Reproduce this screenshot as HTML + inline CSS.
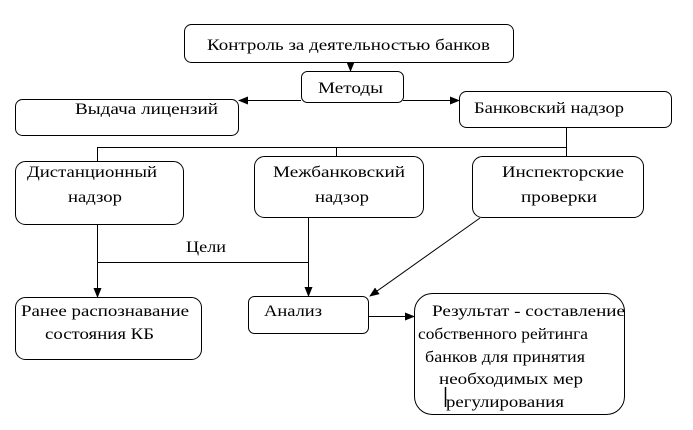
<!DOCTYPE html>
<html><head><meta charset="utf-8"><style>
body{margin:0;background:#fff;width:693px;height:425px;overflow:hidden}
text{font-family:"Liberation Serif","Times New Roman",Times,serif;font-size:16px;fill:#000}
</style></head><body>
<svg width="693" height="425" xmlns="http://www.w3.org/2000/svg">
<defs><marker id="a" markerWidth="10" markerHeight="8" refX="9" refY="4" orient="auto" markerUnits="userSpaceOnUse"><path d="M0,0 L10,4 L0,8 z" fill="#000"/></marker></defs>
<g fill="none" stroke="#000" stroke-width="1">
<rect x="184.5" y="24.5" width="329" height="38" rx="7"/>
<rect x="301.5" y="71.5" width="102" height="31" rx="6"/>
<rect x="15.5" y="99.5" width="223" height="36" rx="7"/>
<rect x="459.5" y="91.5" width="212" height="36" rx="7"/>
<rect x="15.5" y="161.5" width="168" height="63" rx="10"/>
<rect x="254.5" y="156.5" width="169" height="61" rx="10"/>
<rect x="472.5" y="156.5" width="171" height="61" rx="10"/>
<rect x="15.5" y="297.5" width="186" height="62" rx="10"/>
<rect x="248.5" y="296.5" width="120" height="37" rx="6"/>
<rect x="414.5" y="293.5" width="210" height="121" rx="18"/>
<line x1="350.5" y1="62" x2="350.5" y2="71" marker-end="url(#a)"/>
<line x1="301" y1="100.5" x2="239" y2="100.5" marker-end="url(#a)"/>
<line x1="403" y1="100.5" x2="459" y2="100.5" marker-end="url(#a)"/>
<polyline points="566.5,128 566.5,147.5 97.5,147.5 97.5,161"/>
<line x1="336.5" y1="147" x2="336.5" y2="156"/>
<line x1="566.5" y1="147" x2="566.5" y2="156"/>
<line x1="97.5" y1="225" x2="97.5" y2="297" marker-end="url(#a)"/>
<line x1="97" y1="262.5" x2="308" y2="262.5"/>
<line x1="308.5" y1="218" x2="308.5" y2="296" marker-end="url(#a)"/>
<line x1="480" y1="218" x2="370" y2="296" marker-end="url(#a)"/>
<line x1="369" y1="316.5" x2="414" y2="316.5" marker-end="url(#a)"/>
<line x1="445.5" y1="387" x2="445.5" y2="407" stroke-width="1.5"/>
</g>
<g font-family="Liberation Serif, Times New Roman, serif" font-size="16">
<text x="207" y="50" textLength="283" lengthAdjust="spacingAndGlyphs">Контроль за деятельностью банков</text>
<text x="318" y="93" textLength="65" lengthAdjust="spacingAndGlyphs">Методы</text>
<text x="75" y="114" textLength="143" lengthAdjust="spacingAndGlyphs">Выдача лицензий</text>
<text x="474" y="113" textLength="150" lengthAdjust="spacingAndGlyphs">Банковский надзор</text>
<text x="27" y="177" textLength="130" lengthAdjust="spacingAndGlyphs">Дистанционный</text>
<text x="68" y="202" textLength="54" lengthAdjust="spacingAndGlyphs">надзор</text>
<text x="273" y="177" textLength="132" lengthAdjust="spacingAndGlyphs">Межбанковский</text>
<text x="315" y="202" textLength="54" lengthAdjust="spacingAndGlyphs">надзор</text>
<text x="502" y="177" textLength="122" lengthAdjust="spacingAndGlyphs">Инспекторские</text>
<text x="521" y="202" textLength="76" lengthAdjust="spacingAndGlyphs">проверки</text>
<text x="186" y="252" textLength="40" lengthAdjust="spacingAndGlyphs">Цели</text>
<text x="21" y="316" textLength="168" lengthAdjust="spacingAndGlyphs">Ранее распознавание</text>
<text x="45" y="339" textLength="109" lengthAdjust="spacingAndGlyphs">состояния КБ</text>
<text x="264" y="316" textLength="58" lengthAdjust="spacingAndGlyphs">Анализ</text>
<text x="432" y="316" textLength="193" lengthAdjust="spacingAndGlyphs">Результат - составление</text>
<text x="418" y="339" textLength="170" lengthAdjust="spacingAndGlyphs">собственного рейтинга</text>
<text x="425" y="362" textLength="160" lengthAdjust="spacingAndGlyphs">банков для принятия</text>
<text x="439" y="384" textLength="144" lengthAdjust="spacingAndGlyphs">необходимых мер</text>
<text x="446" y="407" textLength="118" lengthAdjust="spacingAndGlyphs">регулирования</text>
</g>
</svg>
</body></html>
